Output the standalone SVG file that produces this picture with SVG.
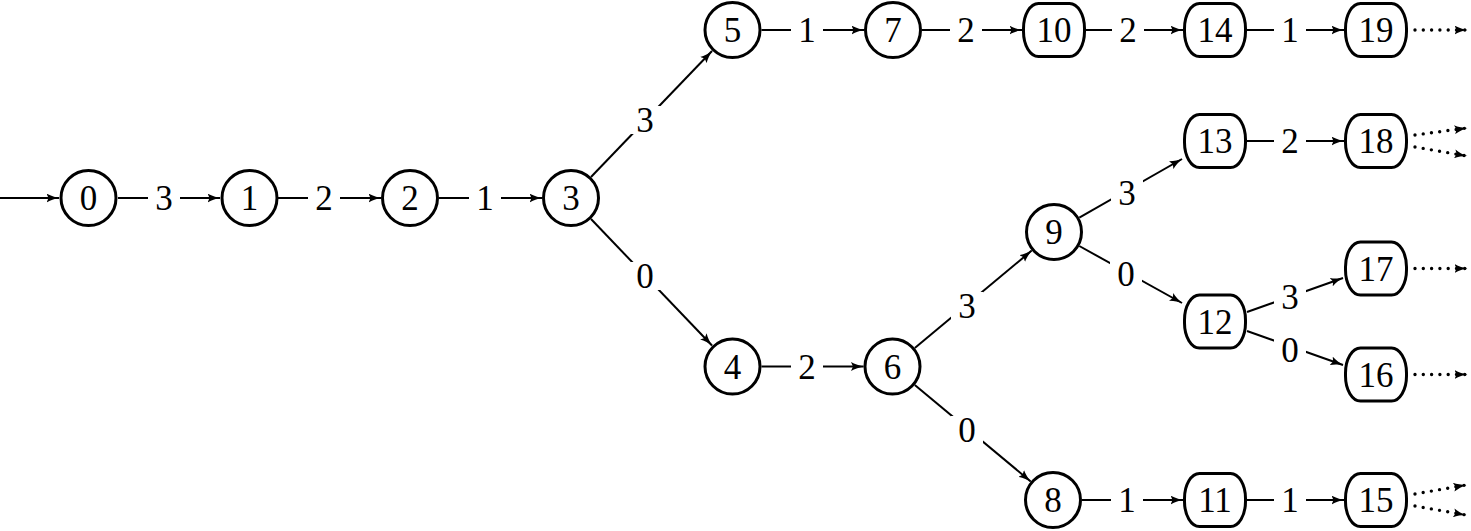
<svg xmlns="http://www.w3.org/2000/svg" width="1471" height="531" viewBox="0 0 1471 531">
<style>
.n circle,.n rect{fill:#fff;stroke:#000;stroke-width:3}
text{font-family:"Liberation Serif","DejaVu Serif",serif;font-size:35px;text-anchor:middle;fill:#000}
.e{stroke:#000;stroke-width:2;fill:none;marker-end:url(#ah)}
.d{stroke:#000;stroke-width:3.4;fill:none;stroke-linecap:round;stroke-dasharray:0 8.3;marker-end:url(#ah)}
.lb rect{fill:#fff;stroke:none}
</style>
<defs>
<marker id="ah" markerUnits="userSpaceOnUse" viewBox="0 0 13 9" refX="12.5" refY="4.5" markerWidth="13" markerHeight="9" orient="auto">
<path d="M13,4.5 C9,5.1 3.5,6.8 0,9 L2,4.5 L0,0 C3.5,2.2 9,3.9 13,4.5 z" fill="#000"/>
</marker>
</defs>
<g id="connectors">
<line class="e" x1="0" y1="198" x2="59" y2="198"/>
<line class="e" x1="118" y1="198" x2="220" y2="198"/>
<line class="e" x1="278" y1="198" x2="381" y2="198"/>
<line class="e" x1="439" y1="198" x2="542" y2="198"/>
<line class="e" x1="591" y1="177" x2="712" y2="51"/>
<line class="e" x1="591" y1="219" x2="712" y2="345.5"/>
<line class="e" x1="761.5" y1="30" x2="864" y2="30"/>
<line class="e" x1="922" y1="30" x2="1022" y2="30"/>
<line class="e" x1="1086" y1="30" x2="1183" y2="30"/>
<line class="e" x1="1247" y1="30" x2="1344" y2="30"/>
<line class="e" x1="761.5" y1="366.5" x2="863.5" y2="366.5"/>
<line class="e" x1="914.8" y1="348" x2="1031.7" y2="250.6"/>
<line class="e" x1="914.8" y1="385" x2="1030.7" y2="481.5"/>
<line class="e" x1="1079.3" y1="217.7" x2="1182" y2="159"/>
<line class="e" x1="1079.3" y1="246" x2="1182" y2="303"/>
<line class="e" x1="1247" y1="141" x2="1344" y2="141"/>
<line class="e" x1="1247" y1="312" x2="1343" y2="278"/>
<line class="e" x1="1247" y1="331" x2="1343" y2="365"/>
<line class="e" x1="1082" y1="500" x2="1183" y2="500"/>
<line class="e" x1="1247" y1="500" x2="1344" y2="500"/>
<line class="d" x1="1415" y1="30" x2="1467" y2="30"/>
<line class="d" x1="1415" y1="135" x2="1467" y2="128"/>
<line class="d" x1="1415" y1="147" x2="1467" y2="156"/>
<line class="d" x1="1415" y1="268.5" x2="1467" y2="268.5"/>
<line class="d" x1="1415" y1="374.5" x2="1467" y2="374.5"/>
<line class="d" x1="1415" y1="494" x2="1466" y2="485"/>
<line class="d" x1="1415" y1="506" x2="1466" y2="515"/>
<g class="lb">
<rect x="148" y="184" width="32" height="28"/><text x="164" y="210">3</text>
<rect x="308" y="184" width="32" height="28"/><text x="324" y="210">2</text>
<rect x="469" y="184" width="32" height="28"/><text x="485" y="210">1</text>
<rect x="629" y="106" width="32" height="28"/><text x="645" y="132">3</text>
<rect x="629" y="262" width="32" height="28"/><text x="645" y="288">0</text>
<rect x="791" y="16" width="32" height="28"/><text x="807" y="42">1</text>
<rect x="950" y="16" width="32" height="28"/><text x="966" y="42">2</text>
<rect x="1112" y="16" width="32" height="28"/><text x="1128" y="42">2</text>
<rect x="1274" y="16" width="32" height="28"/><text x="1290" y="42">1</text>
<rect x="791" y="352.5" width="32" height="28"/><text x="807" y="378.5">2</text>
<rect x="951" y="292" width="32" height="28"/><text x="967" y="318">3</text>
<rect x="951" y="416" width="32" height="28"/><text x="967" y="442">0</text>
<rect x="1111" y="179" width="32" height="28"/><text x="1127" y="205">3</text>
<rect x="1110" y="260" width="32" height="28"/><text x="1126" y="286">0</text>
<rect x="1274" y="127" width="32" height="28"/><text x="1290" y="153">2</text>
<rect x="1274" y="283" width="32" height="28"/><text x="1290" y="309">3</text>
<rect x="1274" y="336" width="32" height="28"/><text x="1290" y="362">0</text>
<rect x="1111" y="486" width="32" height="28"/><text x="1127" y="512">1</text>
<rect x="1274" y="486" width="32" height="28"/><text x="1290" y="512">1</text>
</g>
</g>
<g id="n0" class="n"><circle cx="88.5" cy="198" r="27.5"/><text x="88.5" y="210">0</text></g>
<g id="n1" class="n"><circle cx="249.5" cy="198" r="27.5"/><text x="249.5" y="210">1</text></g>
<g id="n2" class="n"><circle cx="410" cy="198" r="27.5"/><text x="410" y="210">2</text></g>
<g id="n3" class="n"><circle cx="571" cy="198" r="27.5"/><text x="571" y="210">3</text></g>
<g id="n5" class="n"><circle cx="732.5" cy="30" r="27.5"/><text x="732.5" y="42">5</text></g>
<g id="n7" class="n"><circle cx="893" cy="30" r="27.5"/><text x="893" y="42">7</text></g>
<g id="n4" class="n"><circle cx="732.5" cy="366.5" r="27.5"/><text x="732.5" y="378.5">4</text></g>
<g id="n6" class="n"><circle cx="892.5" cy="366.5" r="27.5"/><text x="892.5" y="378.5">6</text></g>
<g id="n9" class="n"><circle cx="1054" cy="232" r="27.5"/><text x="1054" y="244">9</text></g>
<g id="n8" class="n"><circle cx="1053" cy="500" r="27.5"/><text x="1053" y="512">8</text></g>
<g id="n10" class="n"><rect x="1023.5" y="3.5" width="61" height="53" rx="15" ry="25"/><text x="1054" y="42">10</text></g>
<g id="n14" class="n"><rect x="1184.5" y="3.5" width="61" height="53" rx="15" ry="25"/><text x="1215" y="42">14</text></g>
<g id="n19" class="n"><rect x="1345.5" y="3.5" width="61" height="53" rx="15" ry="25"/><text x="1376" y="42">19</text></g>
<g id="n13" class="n"><rect x="1184.5" y="114.5" width="61" height="53" rx="15" ry="25"/><text x="1215" y="153">13</text></g>
<g id="n18" class="n"><rect x="1345.5" y="114.5" width="61" height="53" rx="15" ry="25"/><text x="1376" y="153">18</text></g>
<g id="n12" class="n"><rect x="1184.5" y="295" width="61" height="53" rx="15" ry="25"/><text x="1215" y="333.5">12</text></g>
<g id="n17" class="n"><rect x="1345.5" y="242" width="61" height="53" rx="15" ry="25"/><text x="1376" y="280.5">17</text></g>
<g id="n16" class="n"><rect x="1345.5" y="348" width="61" height="53" rx="15" ry="25"/><text x="1376" y="386.5">16</text></g>
<g id="n11" class="n"><rect x="1184.5" y="473.5" width="61" height="53" rx="15" ry="25"/><text x="1215" y="512">11</text></g>
<g id="n15" class="n"><rect x="1345.5" y="473.5" width="61" height="53" rx="15" ry="25"/><text x="1376" y="512">15</text></g>
</svg>
